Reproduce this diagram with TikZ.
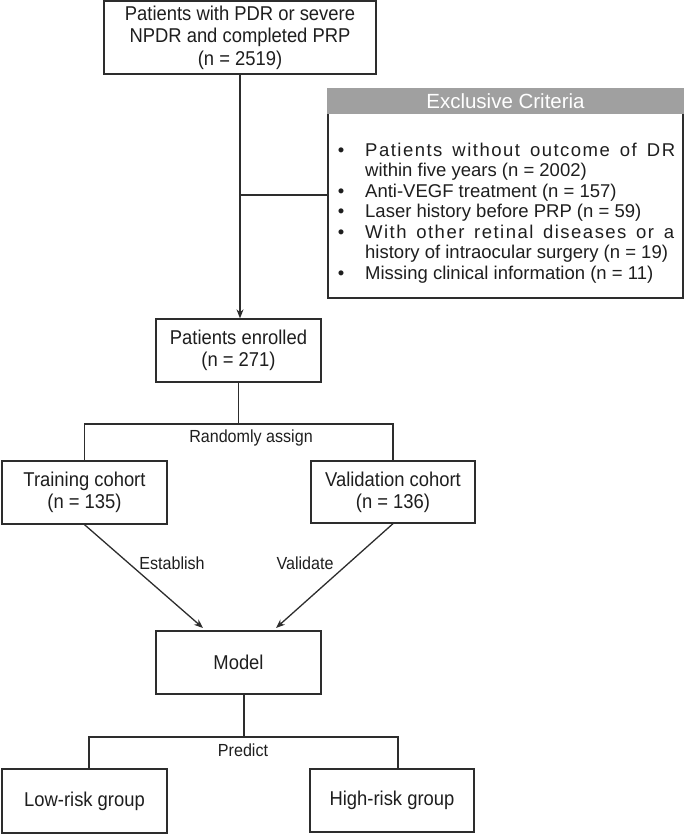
\documentclass[tikz,border=0pt]{standalone}
\usepackage{fontspec}
\setmainfont{Liberation Sans}
\newfontfamily\boxfont{Liberation Sans}[FakeStretch=0.92]
\usetikzlibrary{arrows.meta}
\definecolor{linec}{RGB}{45,45,45}
\definecolor{textc}{RGB}{30,30,30}
\definecolor{headc}{RGB}{160,160,160}
\tikzset{
  box/.style={draw=linec, line width=1.3pt, fill=white, align=center, inner sep=0pt,
    text=textc, font=\boxfont\fontsize{20}{22}\selectfont},
  conn/.style={draw=linec, line width=1.3pt},
  arr/.style={conn, -{Stealth[length=9pt,width=7pt]}},
  lbl/.style={text=textc, font=\boxfont\fontsize{17.5}{20}\selectfont, inner sep=0pt},
  item/.style={text=textc, font=\fontsize{18.5}{22}\selectfont, inner sep=0pt, anchor=base west},
  bul/.style={text=textc, font=\fontsize{18.5}{22}\selectfont, inner sep=0pt, anchor=base}
}
\begin{document}
\begin{tikzpicture}[x=1pt,y=-1pt]
\useasboundingbox (0,0) rectangle (685,835);
% boxes
\node[box, minimum width=272pt, minimum height=73pt, font=\boxfont\fontsize{20}{22.5}\selectfont] (top) at (240,37.5)
  {Patients with PDR or severe\\NPDR and completed PRP\\(n = 2519)};
\node[box, minimum width=355pt, minimum height=185pt] (excl) at (505.5,205.5) {};
\node[draw=headc, fill=headc, line width=1.3pt, minimum width=355pt, minimum height=24pt, inner sep=0pt,
  text=white, font=\fontsize{20.5}{24}\selectfont] (head) at (505.5,101) {Exclusive Criteria};
\node[box, minimum width=165pt, minimum height=63pt] (enr) at (238.5,350.5) {Patients enrolled\\(n = 271)};
\node[box, minimum width=165pt, minimum height=63pt] (train) at (84.5,492.5) {Training cohort\\(n = 135)};
\node[box, minimum width=164pt, minimum height=62pt] (valid) at (393,492) {Validation cohort\\(n = 136)};
\node[box, minimum width=165pt, minimum height=63pt] (model) at (238.5,662.5) {Model};
\node[box, minimum width=165pt, minimum height=64pt] (low) at (84.5,801) {Low-risk group};
\node[box, minimum width=164pt, minimum height=63pt] (high) at (392,800.5) {High-risk group};
% criteria list
\foreach \y in {156,197,217.5,238,279} {\node[bul] at (341,\y) {•};}
\node[item] (c1) at (365,156) {\makebox[310pt][s]{\addfontfeature{LetterSpace=8}Patients without outcome of DR}};
\node[item] (c2) at (365,176.5) {within five years (n = 2002)};
\node[item] (c3) at (365,197) {Anti-VEGF treatment (n = 157)};
\node[item] (c4) at (365,217.5) {Laser history before PRP (n = 59)};
\node[item] (c5) at (365,238) {\makebox[309pt][s]{\addfontfeature{LetterSpace=8}With other retinal diseases or a}};
\node[item] (c6) at (365,258.5) {history of intraocular surgery (n = 19)};
\node[item] (c7) at (365,279) {Missing clinical information (n = 11)};
% coordinates
\coordinate (j1) at (240,195);
\coordinate (s1) at (238.5,424);
\coordinate (tl) at (203,628);
\coordinate (tr) at (276,628);
\coordinate (s2) at (244,737);
% connectors
\draw[arr] (top.south) -- (top.south |- enr.north);
\draw[conn] (j1) -- (excl.west |- j1);
\draw[conn] (enr.south) -- (s1);
\draw[conn] (train.north) |- (s1) -| (valid.north);
\draw[arr] (train.south) -- (tl);
\draw[arr] (valid.south) -- (tr);
\draw[conn] (s2 |- model.south) -- (s2);
\draw[conn] ([xshift=4.5pt]low.north) |- (s2) -| ([xshift=6pt]high.north);
% labels
\node[lbl] (la) at (251,438) {Randomly assign};
\node[lbl] (le) at (172,563) {Establish};
\node[lbl] (lv) at (305,563) {Validate};
\node[lbl] (lp) at (243,750) {Predict};
\end{tikzpicture}
\end{document}
